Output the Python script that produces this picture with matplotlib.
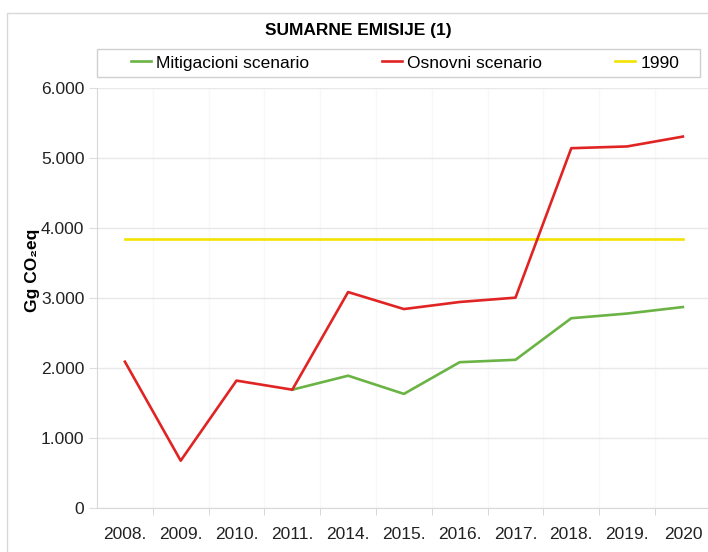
import numpy as np
import matplotlib
matplotlib.use("Agg")
import matplotlib.pyplot as plt
from matplotlib.patches import Rectangle

plt.rcParams['font.family'] = ['Liberation Sans', 'DejaVu Sans']

years = ['2008.', '2009.', '2010.', '2011.', '2014.', '2015.', '2016.',
         '2017.', '2018.', '2019.', '2020']
osnovni = [2090, 676, 1820, 1690, 3085, 2842, 2943, 3005, 5140, 5165, 5306]
mitigacioni = [np.nan, np.nan, np.nan, 1690, 1890, 1630, 2083, 2117, 2711, 2778, 2871]
baza_1990 = [3850] * len(years)

title = 'SUMARNE EMISIJE (1)'
ylabel = 'Gg CO\u2082eq'

fig = plt.figure(figsize=(7.08, 5.52), dpi=100)
W, H = 708, 552

# outer chart frame
fig.patches.append(Rectangle((7 / W, -0.05), 1.1, 1 - 13 / H + 0.05,
                             transform=fig.transFigure, fill=False,
                             edgecolor='#d8d8d8', linewidth=1))
# legend frame
fig.patches.append(Rectangle((97 / W, 1 - 77 / H), 603 / W, 28 / H,
                             transform=fig.transFigure, fill=False,
                             edgecolor='#d0d0d0', linewidth=1))

ax = fig.add_axes([97 / W, 44 / H, 1 - 97 / W, 420 / H])
x = np.arange(len(years))

ax.plot(x, baza_1990, color='#f2e200', lw=1.9, label='1990', zorder=2)
ax.plot(x, mitigacioni, color='#6ab344', lw=1.9, label='Mitigacioni scenario', zorder=3)
ax.plot(x, osnovni, color='#e02424', lw=1.9, label='Osnovni scenario', zorder=4)

ax.set_xlim(-0.5, 10.45)
ax.set_ylim(0, 6000)
ax.set_yticks(np.arange(0, 6001, 1000))
ax.set_yticklabels(['0', '1.000', '2.000', '3.000', '4.000', '5.000', '6.000'])
ax.set_xticks(x)
ax.set_xticklabels(years)
ax.set_xticks(x[:-1] + 0.5, minor=True)
ax.tick_params(axis='x', which='major', length=0, pad=14, labelsize=12.5, labelcolor='#222222')
ax.tick_params(axis='x', which='minor', length=5, color='#d0d0d0', direction='out')
ax.tick_params(axis='y', length=6, color='#dddddd', labelsize=12.5, labelcolor='#222222', pad=3)

ax.grid(axis='y', color='#e8e8e8', lw=1)
for b in x[:-1] + 0.5:
    ax.axvline(b, color='#f8f8f8', lw=1, zorder=0)
ax.set_axisbelow(True)
for s in ['top', 'right']:
    ax.spines[s].set_visible(False)
for s in ['left', 'bottom']:
    ax.spines[s].set_color('#d8d8d8')

ax.set_ylabel(ylabel, fontsize=12.5, fontweight='bold')
ax.yaxis.set_label_coords(-57 / 611, (508 - 270) / 420)

h, l = ax.get_legend_handles_labels()
order = [1, 2, 0]
fig.legend([h[i] for i in order], [l[i] for i in order],
           loc='center', bbox_to_anchor=(405 / W, 1 - 63 / H),
           ncol=3, fontsize=12.5, frameon=False,
           handlelength=1.15, handletextpad=0.3, columnspacing=4.2)

fig.text(358 / W, 1 - 30 / H, title, ha='center', va='center',
         fontsize=12.5, fontweight='bold')

fig.savefig('out.png', dpi=100)
